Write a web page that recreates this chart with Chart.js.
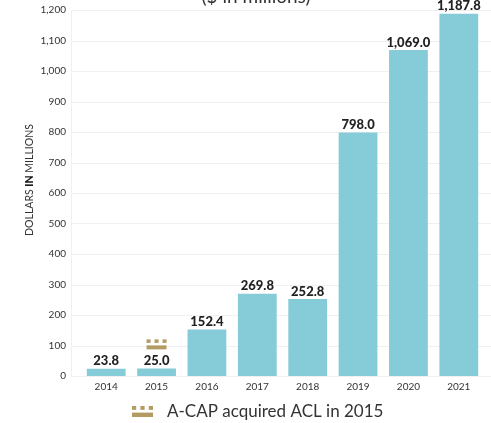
<!DOCTYPE html>
<html>
<head>
<meta charset="utf-8">
<script src="https://cdn.jsdelivr.net/npm/chart.js@4/dist/chart.umd.min.js"></script>
<style>
  html, body { margin: 0; padding: 0; background: #ffffff; }
  #wrap { position: relative; width: 491px; height: 423px; }
</style>
</head>
<body>
<div id="wrap"><canvas id="revenueChart" width="491" height="423"></canvas></div>
<script>
// Chart data
const years = ['2014', '2015', '2016', '2017', '2018', '2019', '2020', '2021'];
const revenue = [23.8, 25.0, 152.4, 269.8, 252.8, 798.0, 1069.0, 1187.8];
const yTicks = [0, 100, 200, 300, 400, 500, 600, 700, 800, 900, 1000, 1100, 1200];
const markerYear = '2015';
const titleText = '($ in millions)';
const axisTitleParts = ['DOLLARS ', 'IN', ' MILLIONS'];
const legendText = 'A-CAP acquired ACL in 2015';

const barColor = '#85ccd8';
const goldColor = '#b39c62';
const textColor = '#333333';
const gridColor = '#f0f0f0';
const fontFamily = 'Lato, "Open Sans", sans-serif';

// little gold marker: three squares over a bar
function drawMarker(ctx, cx, top, w, h) {
    const sq = w / 5;
    ctx.fillStyle = goldColor;
    for (let i = 0; i < 3; i++) {
        ctx.fillRect(cx - w / 2 + i * 2 * sq, top, sq, h * 0.35);
    }
    ctx.fillRect(cx - w / 2, top + h * 0.6, w, h * 0.4);
}

const extrasPlugin = {
    id: 'extras',
    beforeDatasetsDraw(chart) {
        const ctx = chart.ctx;
        const area = chart.chartArea;
        const yScale = chart.scales.y;
        ctx.save();
        ctx.strokeStyle = gridColor;
        ctx.lineWidth = 1;
        yScale.ticks.forEach(t => {
            const py = Math.round(yScale.getPixelForValue(t.value)) + 0.5;
            ctx.beginPath();
            ctx.moveTo(71, py);
            ctx.lineTo(chart.width, py);
            ctx.stroke();
        });
        ctx.beginPath();
        ctx.moveTo(71.5, area.top);
        ctx.lineTo(71.5, area.bottom);
        ctx.stroke();
        ctx.restore();
    },
    afterDatasetsDraw(chart) {
        const ctx = chart.ctx;
        const meta = chart.getDatasetMeta(0);
        ctx.save();
        // value labels
        ctx.fillStyle = '#222222';
        ctx.font = '900 13px ' + fontFamily;
        ctx.textAlign = 'center';
        ctx.textBaseline = 'bottom';
        meta.data.forEach((bar, i) => {
            const label = revenue[i].toLocaleString('en-US', { minimumFractionDigits: 1, maximumFractionDigits: 1 });
            ctx.fillText(label, bar.x, bar.y - 1);
        });
        // marker above 2015 bar
        const mi = years.indexOf(markerYear);
        const mb = meta.data[mi];
        drawMarker(ctx, mb.x, mb.y - 29, 20, 10);

        // title (clipped at top)
        ctx.fillStyle = textColor;
        ctx.font = '19px ' + fontFamily;
        ctx.textAlign = 'center';
        ctx.textBaseline = 'alphabetic';
        ctx.fillText(titleText, 256, 3);

        // y axis title with bold "IN"
        ctx.translate(30, 180);
        ctx.rotate(-Math.PI / 2);
        ctx.textBaseline = 'middle';
        ctx.textAlign = 'left';
        const fonts = ['10.5px ' + fontFamily, '900 10.5px ' + fontFamily, '10.5px ' + fontFamily];
        let total = 0;
        axisTitleParts.forEach((p, i) => { ctx.font = fonts[i]; total += ctx.measureText(p).width; });
        let x = -total / 2;
        axisTitleParts.forEach((p, i) => {
            ctx.font = fonts[i];
            ctx.fillStyle = i === 1 ? '#111111' : textColor;
            ctx.fillText(p, x, 0);
            x += ctx.measureText(p).width;
        });
        ctx.setTransform(1, 0, 0, 1, 0, 0);

        // legend
        drawMarker(ctx, 142.5, 406, 21, 11);
        ctx.fillStyle = textColor;
        ctx.font = '17px ' + fontFamily;
        ctx.textAlign = 'left';
        ctx.textBaseline = 'middle';
        ctx.fillText(legendText, 167, 412);
        ctx.restore();
    }
};

const ctx = document.getElementById('revenueChart').getContext('2d');
new Chart(ctx, {
    type: 'bar',
    data: {
        labels: years,
        datasets: [{
            data: revenue,
            backgroundColor: barColor,
            borderWidth: 0,
            barPercentage: 0.77,
            categoryPercentage: 1.0
        }]
    },
    options: {
        responsive: false,
        animation: false,
        devicePixelRatio: 1,
        layout: { padding: { top: 10, right: 7, left: 0, bottom: 0 } },
        plugins: {
            legend: { display: false },
            tooltip: { enabled: false }
        },
        scales: {
            x: {
                grid: { display: false, drawTicks: false },
                border: { display: false },
                ticks: {
                    color: textColor,
                    font: { family: fontFamily, size: 10 },
                    padding: 5,
                    maxRotation: 0
                },
                afterFit(scale) { scale.height = 47; }
            },
            y: {
                min: yTicks[0],
                max: yTicks[yTicks.length - 1],
                afterBuildTicks(scale) { scale.ticks = yTicks.map(v => ({ value: v })); },
                grid: { display: false, drawTicks: false },
                border: { display: false },
                ticks: {
                    color: textColor,
                    font: { family: fontFamily, size: 10 },
                    padding: 15,
                    callback: v => v.toLocaleString('en-US')
                },
                afterFit(scale) { scale.width = 81; scale.paddingTop = 0; }
            }
        }
    },
    plugins: [extrasPlugin]
});
</script>
</body>
</html>
